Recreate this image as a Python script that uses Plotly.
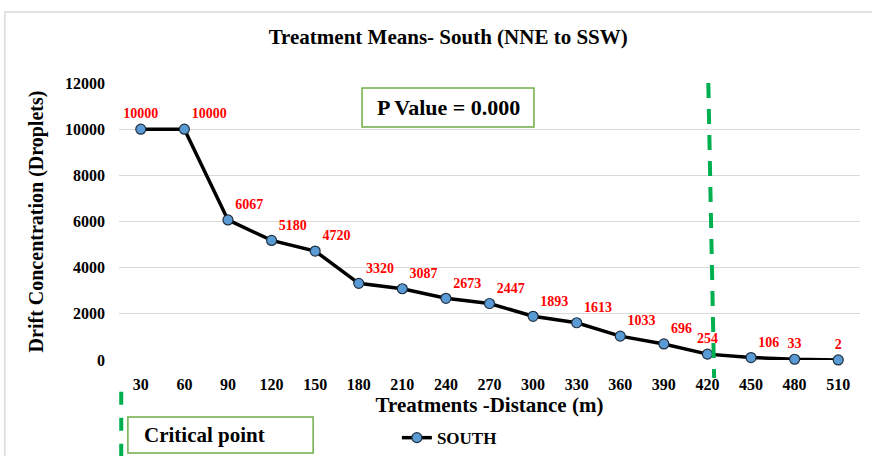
import plotly.graph_objects as go

distance = [30, 60, 90, 120, 150, 180, 210, 240, 270, 300, 330, 360, 390, 420, 450, 480, 510]
south = [10000, 10000, 6067, 5180, 4720, 3320, 3087, 2673, 2447, 1893, 1613, 1033, 696, 254, 106, 33, 2]
y_ticks = [0, 2000, 4000, 6000, 8000, 10000, 12000]
label_pos = ["top center", "top right", "top right", "top right", "top right", "top right", "top right",
             "top right", "top right", "top right", "top right", "top right", "top right", "top center",
             "top right", "top center", "top center"]

SERIF = "Liberation Serif, Times New Roman, serif"
GREEN_BOX = "#70AD47"
GREEN_DASH = "#00B050"

fig = go.Figure()
fig.add_trace(go.Scatter(
    x=distance, y=south, name="SOUTH",
    mode="lines+markers+text",
    line=dict(color="black", width=3.5),
    marker=dict(size=10, color="#5B9BD5", line=dict(color="#1F2F3F", width=1.2)),
    text=[str(v) for v in south], textposition=label_pos,
    textfont=dict(family=SERIF, size=14, color="red", weight="bold"),
    cliponaxis=False,
))

fig.update_layout(
    width=872, height=456,
    margin=dict(l=119, r=12, t=83, b=96, autoexpand=False),
    paper_bgcolor="white", plot_bgcolor="white",
    font=dict(family=SERIF, color="black"),
    title=dict(text="<b>Treatment Means- South (NNE to SSW)</b>", x=0.514, xanchor="center",
               y=1 - 37 / 456, yanchor="middle", font=dict(size=21, family=SERIF, color="black")),
    showlegend=True,
    legend=dict(orientation="h", x=0.375, y=-0.282, xanchor="left", yanchor="middle",
                font=dict(family=SERIF, size=17, color="black", weight="bold"),
                bgcolor="rgba(0,0,0,0)", borderwidth=0),
)

fig.update_xaxes(
    range=[15, 525], tickvals=distance, ticktext=[str(d) for d in distance],
    showgrid=False, zeroline=False, showline=False, ticks="", automargin=False,
    tickfont=dict(family=SERIF, size=16, color="black", weight="bold"),
    ticklabelstandoff=13,
    title=dict(text="<b>Treatments -Distance (m)</b>", font=dict(family=SERIF, size=21, color="black"),
               standoff=3),
)
fig.update_yaxes(
    range=[0, 12000], tickvals=y_ticks, ticktext=[str(v) for v in y_ticks],
    showgrid=True, gridcolor="#D9D9D9", gridwidth=1.3, zeroline=False, showline=False, ticks="",
    automargin=False,
    tickfont=dict(family=SERIF, size=16, color="black", weight="bold"),
    ticklabelstandoff=13,
    title=dict(text="<b>Drift Concentration (Droplets)</b>", font=dict(family=SERIF, size=20, color="black"),
               standoff=16),
)

# outer chart frame
fig.add_shape(type="rect", xref="paper", yref="paper", x0=-0.154, x1=1.2, y0=-0.5, y1=1.256,
              line=dict(color="#D9D9D9", width=1.5), layer="below")

# critical-distance dashed lines
fig.add_shape(type="line", xref="x", yref="paper", x0=420.6, x1=424.6, y0=1.0, y1=-0.065,
              line=dict(color=GREEN_DASH, width=4, dash="15px,11px"))
fig.add_shape(type="line", xref="paper", yref="paper", x0=0.003, x1=0.003, y0=-0.115, y1=-0.36,
              line=dict(color=GREEN_DASH, width=4, dash="13px,13px"))

# P value box
fig.add_shape(type="rect", xref="paper", yref="paper", x0=0.328, x1=0.560, y0=0.841, y1=0.982,
              line=dict(color=GREEN_BOX, width=1.5), fillcolor="white")
fig.add_annotation(xref="paper", yref="paper", x=0.444, y=0.911, yanchor="middle",
                   text="<b>P Value = 0.000</b>", showarrow=False,
                   font=dict(family=SERIF, size=22, color="black"))

# critical point box
fig.add_shape(type="rect", xref="paper", yref="paper", x0=0.012, x1=0.262, y0=-0.336, y1=-0.206,
              line=dict(color=GREEN_BOX, width=1.5))
fig.add_annotation(xref="paper", yref="paper", x=0.031, y=-0.272, xanchor="left", yanchor="middle",
                   text="<b>Critical point</b>", showarrow=False,
                   font=dict(family=SERIF, size=21, color="black"))

fig.write_html("out.html", config={"displayModeBar": False},
               post_script="document.body.style.margin='0';")
